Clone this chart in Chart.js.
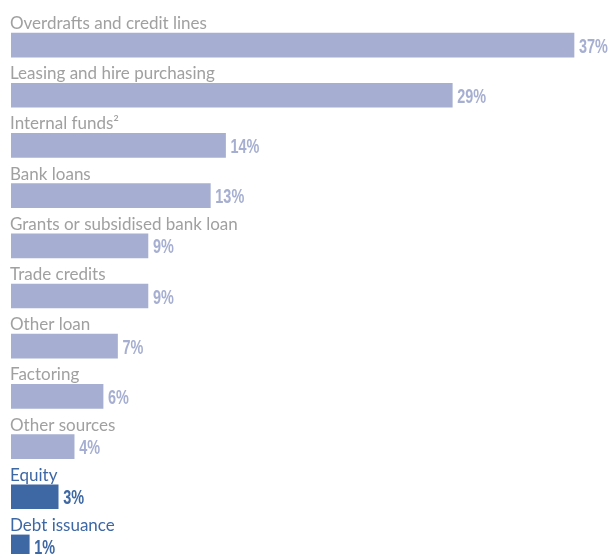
<!DOCTYPE html>
<html>
<head>
<meta charset="utf-8">
<script src="https://cdn.jsdelivr.net/npm/chart.js@4"></script>
<style>
  html, body { margin: 0; padding: 0; background: #fff; overflow: hidden; }
  #wrap { width: 609px; height: 575px; position: relative; }
</style>
</head>
<body>
<div id="wrap"><canvas id="myChart"></canvas></div>
<script>
var categories = [
    "Overdrafts and credit lines",
    "Leasing and hire purchasing",
    "Internal funds\u00B2",
    "Bank loans",
    "Grants or subsidised bank loan",
    "Trade credits",
    "Other loan",
    "Factoring",
    "Other sources",
    "Equity",
    "Debt issuance"
];
// bar lengths (shares in %)
var shares = [37, 29, 14.1, 13.1, 9, 9, 7, 6.05, 4.15, 3.1, 1.2];
var shareLabels = ["37%", "29%", "14%", "13%", "9%", "9%", "7%", "6%", "4%", "3%", "1%"];
var highlighted = ["Equity", "Debt issuance"];

var lightBar = '#a6afd1';
var darkBar = '#3e68a4';
var greyText = '#a0a0a0';

var barColors = categories.map(function (c) {
    return highlighted.indexOf(c) >= 0 ? darkBar : lightBar;
});

// labels above the bars, condensed values at the bar ends
var labelPlugin = {
    id: 'barLabels',
    afterDatasetsDraw: function (chart) {
        var ctx = chart.ctx;
        var meta = chart.getDatasetMeta(0);
        meta.data.forEach(function (bar, i) {
            var hi = highlighted.indexOf(categories[i]) >= 0;
            var top = bar.y - bar.height / 2;
            ctx.save();
            ctx.font = '17px Lato, "Open Sans", sans-serif';
            ctx.fillStyle = hi ? darkBar : greyText;
            ctx.textAlign = 'left';
            ctx.textBaseline = 'alphabetic';
            ctx.fillText(categories[i], 10, top - 4);
            ctx.restore();

            ctx.save();
            ctx.translate(bar.x + 5, bar.y + 7.5);
            ctx.scale(0.74, 1);
            ctx.font = 'bold 19.5px "Liberation Sans", Arial, sans-serif';
            ctx.fillStyle = hi ? darkBar : lightBar;
            ctx.textAlign = 'left';
            ctx.textBaseline = 'alphabetic';
            ctx.fillText(shareLabels[i], 0, 0);
            ctx.restore();
        });
    }
};

var ctx = document.getElementById('myChart').getContext('2d');
var myChart = new Chart(ctx, {
    type: 'bar',
    data: {
        labels: categories,
        datasets: [{
            data: shares,
            backgroundColor: barColors,
            borderWidth: 0,
            barThickness: 24
        }]
    },
    options: {
        indexAxis: 'y',
        responsive: true,
        maintainAspectRatio: false,
        animation: false,
        layout: { padding: { left: 11, top: 20, right: 0, bottom: 3 } },
        plugins: {
            legend: { display: false },
            tooltip: { enabled: false }
        },
        scales: {
            x: { display: false, min: 0, max: 39.3 },
            y: { display: false }
        }
    },
    plugins: [labelPlugin]
});
</script>
</body>
</html>
